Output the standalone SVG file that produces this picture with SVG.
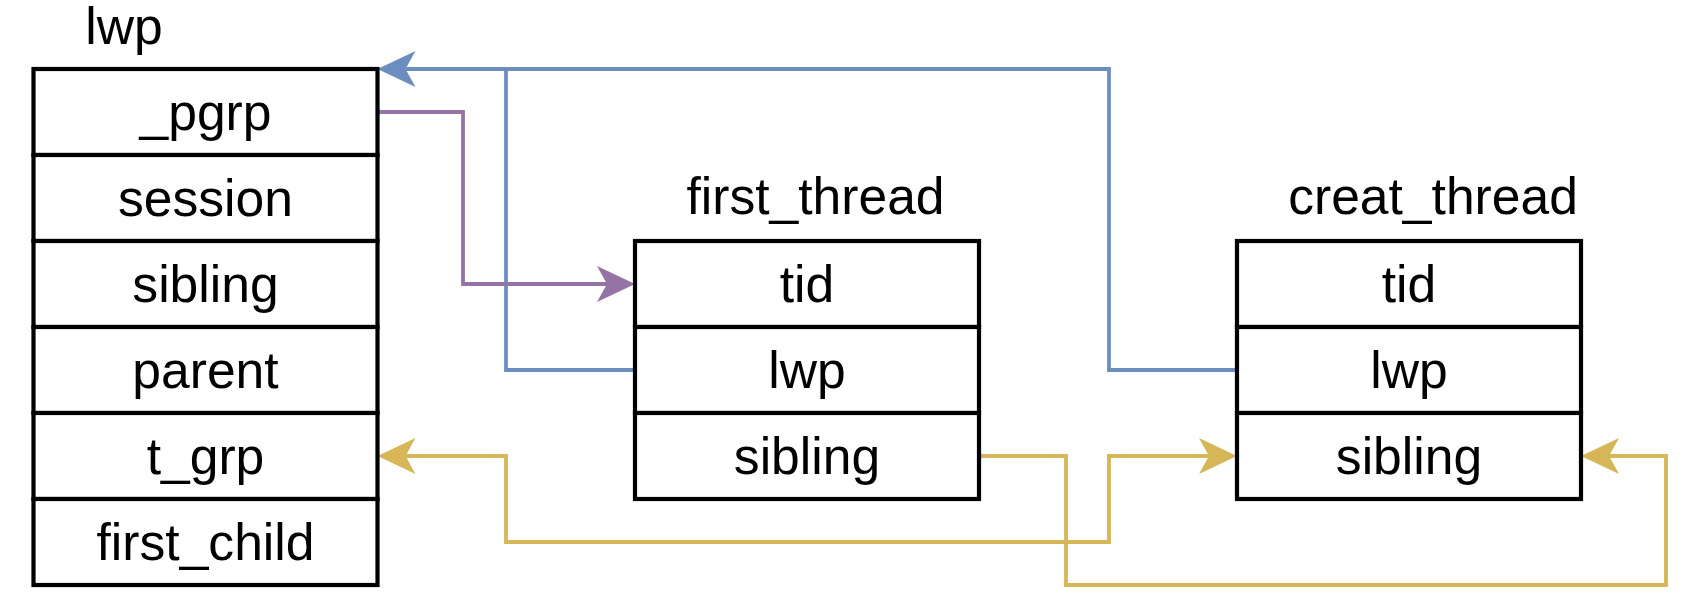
<svg xmlns="http://www.w3.org/2000/svg" width="1688" height="606" viewBox="0 0 1688 606">
<style>
.box{fill:#fff;stroke:#000;stroke-width:4.2}
.t{font-family:"Liberation Sans",Arial,sans-serif;font-size:51.6px;fill:#000;text-anchor:middle}
.c{fill:none;stroke-width:3.8;stroke-linejoin:miter}
.blue{stroke:#6c8ebf}
.purple{stroke:#9673a6}
.yellow{stroke:#d6b656}
</style>
<defs>
<marker id="aB" viewBox="0 0 38 36" refX="10" refY="18" markerWidth="38" markerHeight="36" markerUnits="userSpaceOnUse" orient="auto-start-reverse"><path d="M0,0 L38,18 L0,36 L10,18 Z" fill="#6c8ebf"/></marker>
<marker id="aP" viewBox="0 0 38 36" refX="10" refY="18" markerWidth="38" markerHeight="36" markerUnits="userSpaceOnUse" orient="auto-start-reverse"><path d="M0,0 L38,18 L0,36 L10,18 Z" fill="#9673a6"/></marker>
<marker id="aY" viewBox="0 0 38 36" refX="10" refY="18" markerWidth="38" markerHeight="36" markerUnits="userSpaceOnUse" orient="auto-start-reverse"><path d="M0,0 L38,18 L0,36 L10,18 Z" fill="#d6b656"/></marker>
</defs>
<g id="connectors">
<path class="c blue" d="M635,370 H506 V69"/>
<path class="c blue" d="M1237,370 H1109 V69 H405.5" marker-end="url(#aB)"/>
<path class="c purple" d="M377.5,112 H463 V284 H607" marker-end="url(#aP)"/>
<path class="c yellow" d="M979,456 H1066 V585 H1666 V456 H1609" marker-end="url(#aY)"/>
<path class="c yellow" d="M405.5,456 H506 V542 H1109 V456 H1209" marker-start="url(#aY)" marker-end="url(#aY)"/>
</g>
<g id="lwp">
<text class="t" x="124" y="44">lwp</text>
<rect class="box" x="33.5" y="69" width="344" height="86"/>
<rect class="box" x="33.5" y="155" width="344" height="86"/>
<rect class="box" x="33.5" y="241" width="344" height="86"/>
<rect class="box" x="33.5" y="327" width="344" height="86"/>
<rect class="box" x="33.5" y="413" width="344" height="86"/>
<rect class="box" x="33.5" y="499" width="344" height="86"/>
<text class="t" x="205.5" y="130">_pgrp</text>
<text class="t" x="205.5" y="216">session</text>
<text class="t" x="205.5" y="302">sibling</text>
<text class="t" x="205.5" y="388">parent</text>
<text class="t" x="205.5" y="474">t_grp</text>
<text class="t" x="205.5" y="560">first_child</text>
</g>
<g id="first_thread">
<text class="t" x="815.5" y="214">first_thread</text>
<rect class="box" x="635" y="241" width="344" height="86"/>
<rect class="box" x="635" y="327" width="344" height="86"/>
<rect class="box" x="635" y="413" width="344" height="86"/>
<text class="t" x="807" y="302">tid</text>
<text class="t" x="807" y="388">lwp</text>
<text class="t" x="807" y="474">sibling</text>
</g>
<g id="creat_thread">
<text class="t" x="1433" y="214">creat_thread</text>
<rect class="box" x="1237" y="241" width="344" height="86"/>
<rect class="box" x="1237" y="327" width="344" height="86"/>
<rect class="box" x="1237" y="413" width="344" height="86"/>
<text class="t" x="1409" y="302">tid</text>
<text class="t" x="1409" y="388">lwp</text>
<text class="t" x="1409" y="474">sibling</text>
</g>
</svg>
